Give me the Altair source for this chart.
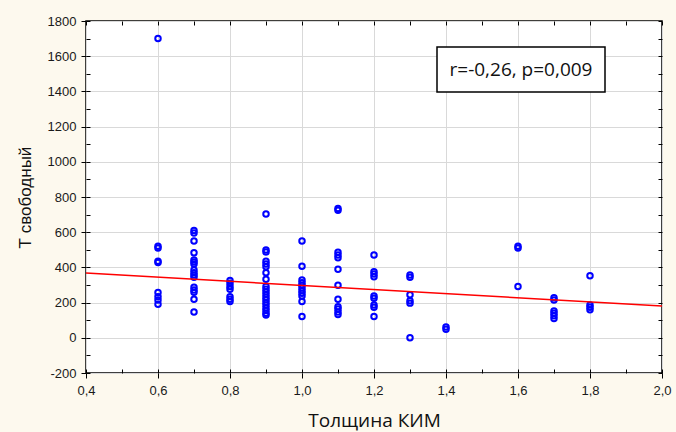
import altair as alt
import pandas as pd

# ---- data ----
kim_groups = [0.6, 0.7, 0.8, 0.9, 1.0, 1.1, 1.2, 1.3, 1.4, 1.6, 1.7, 1.8]
t_values = [
    [1700, 520, 510, 435, 428, 257, 234, 215, 191],
    [610, 595, 550, 483, 442, 431, 419, 385, 370, 357, 344, 287, 272, 259, 219, 147],
    [325, 310, 291, 276, 234, 219, 206],
    [703, 499, 487, 435, 419, 404, 370, 333, 291, 276, 261, 246, 231, 216, 201, 186, 170, 155, 140, 130],
    [550, 406, 329, 313, 299, 283, 268, 253, 238, 206, 121],
    [735, 725, 486, 470, 455, 389, 299, 219, 177, 163, 147, 132],
    [470, 376, 363, 347, 238, 225, 187, 174, 121],
    [357, 344, 245, 210, 197, 0],
    [61, 49],
    [520, 510, 291],
    [228, 215, 153, 140, 125, 109],
    [353, 187, 174, 159],
]
fit_x = [0.4, 2.0]
fit_y = [368, 181]
x_ticks = [0.4, 0.6, 0.8, 1.0, 1.2, 1.4, 1.6, 1.8, 2.0]
y_ticks = [-200, 0, 200, 400, 600, 800, 1000, 1200, 1400, 1600, 1800]
x_minor = [round(0.4 + 0.1 * i, 1) for i in range(17)]
y_minor = [-200 + 100 * i for i in range(21)]
annotation = ["r=-0,26, p=0,009"]
x_title = "Толщина КИМ"
y_title = "Т свободный"

rows = []
for g, vals in zip(kim_groups, t_values):
    for v in vals:
        rows.append({"x": g, "y": v})
pts = pd.DataFrame(rows)
fit = pd.DataFrame({"x": fit_x, "y": fit_y})
ann = pd.DataFrame({"t": annotation})

W, H = 576, 352
FONT = "Liberation Sans"
TFONT = "Open Sans"
xs = alt.Scale(domain=[0.4, 2.0], nice=False, zero=False)
ys = alt.Scale(domain=[-200, 1800], nice=False, zero=False)

points = alt.Chart(pts).mark_point(
    shape="circle", filled=False, color="#0000FF", size=30, strokeWidth=2, opacity=1
).encode(
    x=alt.X("x:Q", scale=xs, title=x_title, axis=alt.Axis(
        values=x_ticks, grid=True, gridColor="#D9D9D9", domain=False,
        ticks=True, tickSize=5, tickColor="black",
        labelFlush=False, labelOverlap=False, labelBound=False,
        labelExpr="replace(format(datum.value, '.1f'), '.', ',')",
        labelFont=FONT, labelFontSize=13, labelColor="#1a1a1a", labelPadding=6,
        titleFont=TFONT, titleFontSize=19, titleFontWeight="normal",
        titleColor="#111", titlePadding=14)),
    y=alt.Y("y:Q", scale=ys, title=y_title, axis=alt.Axis(
        values=y_ticks, grid=True, gridColor="#D9D9D9", domain=False,
        ticks=True, tickSize=5, tickColor="black",
        labelFlush=False, labelOverlap=False,
        labelExpr="'' + datum.value",
        labelFont=FONT, labelFontSize=13, labelColor="#1a1a1a", labelPadding=5,
        titleFont=FONT, titleFontSize=17, titleFontWeight="normal",
        titleColor="#111", titlePadding=13)),
)

line = alt.Chart(fit).mark_line(color="#FF0000", strokeWidth=1.5).encode(
    x=alt.X("x:Q", scale=xs, title=None, axis=alt.Axis(
        orient="top", offset=-H, values=x_minor, grid=False, domain=False,
        labels=False, tickSize=4, tickColor="black")),
    y=alt.Y("y:Q", scale=ys, title=None, axis=alt.Axis(
        orient="right", offset=-W, values=y_minor, grid=False, domain=False,
        labels=False, tickSize=4, tickColor="black")),
)

ghost = alt.Chart(fit).mark_point(opacity=0).encode(
    x=alt.X("x:Q", scale=xs, title=None, axis=alt.Axis(
        orient="bottom", offset=-H, values=x_minor, grid=False, domain=False,
        labels=False, tickSize=4, tickColor="black")),
    y=alt.Y("y:Q", scale=ys, title=None, axis=alt.Axis(
        orient="left", offset=-W, values=y_minor, grid=False, domain=False,
        labels=False, tickSize=4, tickColor="black")),
)

box = alt.Chart(ann).mark_rect(fill="white", stroke="black", strokeWidth=1.5).encode(
    x=alt.value(351), x2=alt.value(519), y=alt.value(26), y2=alt.value(71)
)
label = alt.Chart(ann).mark_text(
    font=TFONT, fontSize=19, color="#111", align="center", baseline="middle"
).encode(x=alt.value(435), y=alt.value(49), text="t:N")

chart = alt.layer(points, line, ghost, box, label).resolve_axis(
    x="independent", y="independent"
).properties(
    width=W, height=H, background="#FDF9EE",
    padding={"left": 86, "top": 21, "right": 14, "bottom": 59},
    autosize=alt.AutoSizeParams(type="none"),
).configure_view(stroke="black", strokeWidth=1.5, fill="white")

chart.save("out.html", embed_options={"renderer": "svg", "actions": False})
